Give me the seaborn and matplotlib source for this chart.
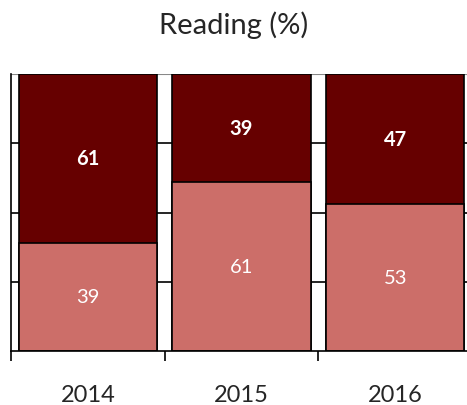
import matplotlib
matplotlib.use("Agg")
import matplotlib.pyplot as plt
import seaborn as sns
import pandas as pd

years = ["2014", "2015", "2016"]
lower = [39, 61, 53]
upper = [61, 39, 47]

sns.set_style("white")
plt.rcParams['font.family'] = ['Lato', 'DejaVu Sans']

df = pd.DataFrame({"year": years, "lower": lower, "upper": upper})
df["total"] = df["lower"] + df["upper"]

fig = plt.figure(figsize=(4.67, 4.06), dpi=100)
ax = fig.add_axes([11/467, 54/406, 461/467, 277/406])

sns.barplot(data=df, x="year", y="total", color="#660000", width=0.9,
            edgecolor="black", linewidth=1.2, saturation=1, ax=ax, zorder=3)
sns.barplot(data=df, x="year", y="lower", color="#CC6E69", width=0.9,
            edgecolor="black", linewidth=1.2, saturation=1, ax=ax, zorder=3)

for i in range(len(years)):
    ax.text(i, lower[i] / 2, str(lower[i]), ha="center", va="center",
            color="white", fontsize=14.5, zorder=5)
    ax.text(i, lower[i] + upper[i] / 2, str(upper[i]), ha="center", va="center",
            color="white", fontsize=14.5, fontweight="bold", zorder=5)

ax.set_ylim(0, 100)
ax.set_xlim(-0.5, 2.5)
for v in [25, 50, 75]:
    ax.axhline(v, color="black", linewidth=1.2, zorder=1)
ax.axhline(100, color="#888888", linewidth=1.5, zorder=1)

ax.set_yticks([0, 25, 50, 75, 100])
ax.set_yticklabels([])
ax.set_xticks([0, 1, 2])
ax.set_xticklabels(years, fontsize=17)
ax.set_xticks([-0.5, 0.5, 1.5, 2.5], minor=True)
ax.tick_params(axis="x", which="major", length=0, pad=24)
ax.tick_params(axis="x", which="minor", length=7, width=1.2, color="black", direction="out", bottom=True)
ax.tick_params(axis="y", length=0)
ax.set_xlabel("")
ax.set_ylabel("")

for s in ["top", "right"]:
    ax.spines[s].set_visible(False)
for s in ["left", "bottom"]:
    ax.spines[s].set_color("black")
    ax.spines[s].set_linewidth(1.2)
    ax.spines[s].set_zorder(4)

fig.text(0.5, 1 - 25/406, "Reading (%)", ha="center", va="center", fontsize=21)

fig.savefig("out.png", dpi=100)
